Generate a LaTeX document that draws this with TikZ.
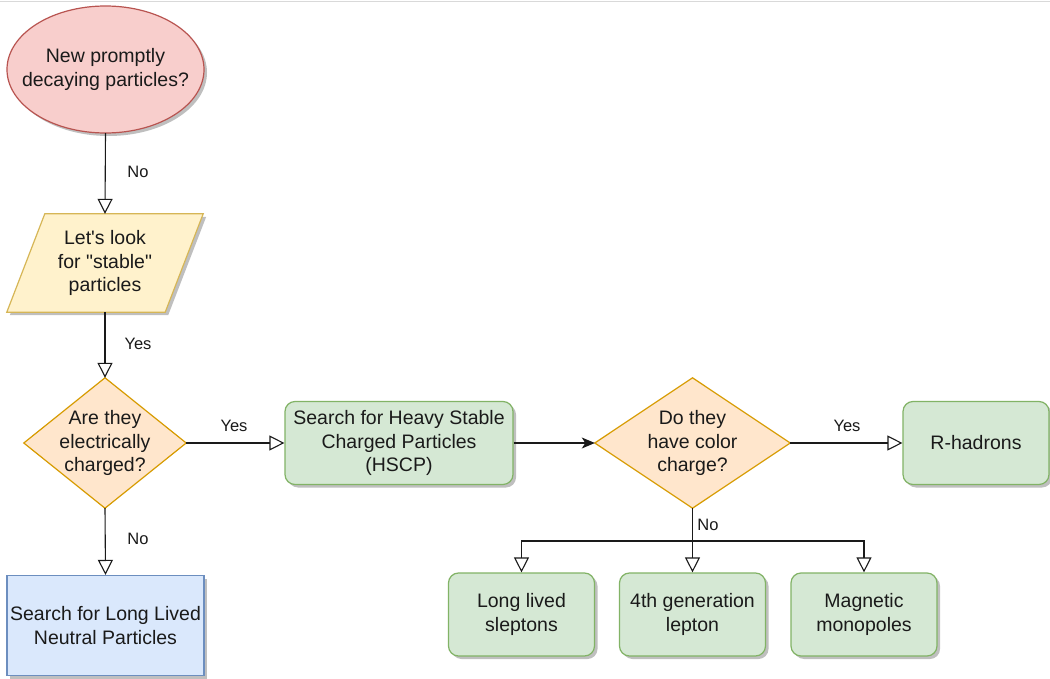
\documentclass[tikz,border=0pt]{standalone}
\usepackage{fontspec}
\setmainfont{Liberation Sans}[Ligatures=TeXOff]
\usetikzlibrary{arrows.meta,shadows,shapes.geometric,calc}
\definecolor{redfill}{HTML}{F8CECC}
\definecolor{redline}{HTML}{B85450}
\definecolor{yelfill}{HTML}{FFF2CC}
\definecolor{yelline}{HTML}{D6B656}
\definecolor{orafill}{HTML}{FFE6CC}
\definecolor{oraline}{HTML}{D79B00}
\definecolor{grnfill}{HTML}{D5E8D4}
\definecolor{grnline}{HTML}{82B366}
\definecolor{blufill}{HTML}{DAE8FC}
\definecolor{bluline}{HTML}{6C8EBF}
\definecolor{txt}{HTML}{1A1A1A}
\pgfdeclarelayer{background}
\pgfdeclarelayer{canvas}
\pgfsetlayers{canvas,background,main}
\tikzset{
  every node/.style={text=txt, font=\fontsize{19.5}{23.4}\selectfont, align=center, inner sep=0pt},
  shd/.style={drop shadow={shadow xshift=3pt, shadow yshift=-3pt, opacity=0.25, fill=black}},
  startbox/.style={rectangle, minimum width=197pt, minimum height=127pt},
  startfill/.style={draw=redline, fill=redfill, line width=1.2pt, shd},
  iobox/.style={rectangle, minimum width=196pt, minimum height=98pt},
  iofill/.style={draw=yelline, fill=yelfill, line width=1.2pt, line join=miter, shd},
  decbox/.style={rectangle, minimum width=162pt, minimum height=130pt},
  decfill/.style={draw=oraline, fill=orafill, line width=1.2pt},
  greenbox/.style={rectangle, rounded corners=10pt, draw=grnline, fill=grnfill, line width=1.2pt, minimum height=83pt, shd},
  bluebox/.style={rectangle, draw=bluline, fill=blufill, line width=1.2pt, minimum width=197pt, minimum height=100pt, shd},
  conn/.style={line width=1.1pt, draw=txt, -{Triangle[open, length=15pt, width=15pt, line width=1.1pt]}},
  connf/.style={line width=1.1pt, draw=txt, -{Stealth[length=13pt, width=11pt, inset=3.5pt]}},
  lbl/.style={font=\fontsize{16.5}{19.8}\selectfont}
}
\begin{document}
\begin{tikzpicture}[x=1pt, y=-1pt]
\useasboundingbox (0,0) rectangle (1050,679);
\begin{pgfonlayer}{canvas}
  \fill[white] (0,0) rectangle (1050,679);
  \draw[black!15, line width=1pt] (0,2) -- (1050,2);
\end{pgfonlayer}

\node[startbox] (start) at (105.5,69.5) {New promptly\\decaying particles?};
\begin{pgfonlayer}{background}
  \path[startfill] (start.center) ellipse [x radius=98.5pt, y radius=63.5pt];
\end{pgfonlayer}

\node[iobox] (look) at (105,263) {Let's look\\for "stable"\\particles};
\begin{pgfonlayer}{background}
  \path[iofill] ($(look.north west)+(38,0)$) -- (look.north east) -- ($(look.south east)+(-38,0)$) -- (look.south west) -- cycle;
\end{pgfonlayer}

\node[decbox] (charged) at (105,443) {Are they\\electrically\\charged?};
\begin{pgfonlayer}{background}
  \path[decfill] (charged.north) -- (charged.east) -- (charged.south) -- (charged.west) -- cycle;
\end{pgfonlayer}

\node[greenbox, minimum width=228pt] (hscp) at (399,443) {Search for Heavy Stable\\Charged Particles\\(HSCP)};

\node[decbox, minimum width=195pt] (color) at (692.5,443) {Do they\\have color\\charge?};
\begin{pgfonlayer}{background}
  \path[decfill] (color.north) -- (color.east) -- (color.south) -- (color.west) -- cycle;
\end{pgfonlayer}

\node[greenbox, minimum width=146pt] (rhad) at (976,443) {R-hadrons};

\node[bluebox] (neutral) at (105.5,625.5) {Search for Long Lived\\Neutral Particles};

\node[greenbox, minimum width=146pt] (slep) at (521.5,614.5) {Long lived\\sleptons};
\node[greenbox, minimum width=146pt] (fourth) at (692.5,614.5) {4th generation\\lepton};
\node[greenbox, minimum width=146pt] (mono) at (864,614.5) {Magnetic\\monopoles};

\coordinate (split) at (692.5,541);

\draw[conn] (start.south) -- (look.north);
\draw[conn] (look.south) -- (charged.north);
\draw[conn] (charged.east) -- (hscp.west);
\draw[conn] (charged.south) -- (neutral.north);
\draw[connf] (hscp.east) -- (color.west);
\draw[conn] (color.east) -- (rhad.west);
\draw[line width=1.1pt, draw=txt] (color.south) -- (split);
\draw[conn] (split) -| (slep.north);
\draw[conn] (split) -- (fourth.north);
\draw[conn] (split) -| (mono.north);

\node[lbl] (l1) at (138,172) {No};
\node[lbl] (l2) at (138,344) {Yes};
\node[lbl] (l3) at (234,426) {Yes};
\node[lbl] (l4) at (138,539) {No};
\node[lbl] (l5) at (847,426) {Yes};
\node[lbl] (l6) at (708,525) {No};
\end{tikzpicture}
\end{document}
